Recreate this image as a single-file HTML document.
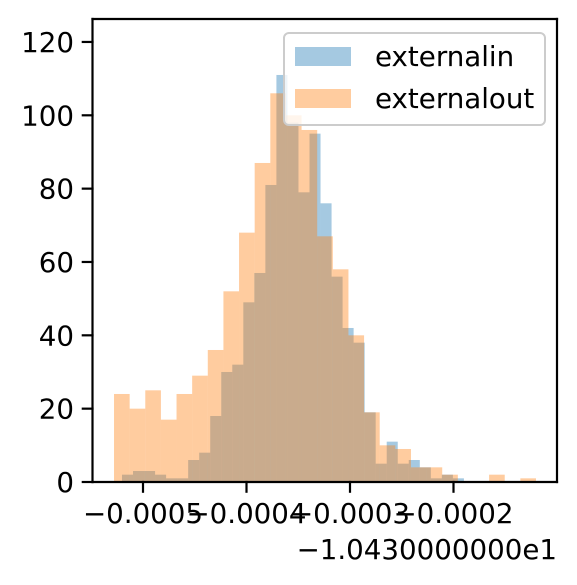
<!DOCTYPE html>
<html><head><meta charset="utf-8"><style>
html,body{margin:0;padding:0;background:#fff;}
svg{display:block;font-family:"DejaVu Sans","Liberation Sans",sans-serif;}
</style></head><body>
<svg id="chart" width="577" height="585" viewBox="0 0 577 585" xmlns="http://www.w3.org/2000/svg">
<g id="bars"></g>
<g id="axes"></g>
<g id="legend">
  <rect x="284" y="33" width="261" height="92" rx="5" fill="#fff" fill-opacity="0.8" stroke="#cccccc" stroke-width="2"/>
  <rect x="295" y="47" width="56" height="19" fill="#1f77b4" fill-opacity="0.4"/>
  <text x="375" y="66" font-size="27.7">externalin</text>
  <rect x="295" y="89" width="56" height="19" fill="#ff7f0e" fill-opacity="0.4"/>
  <text x="375" y="108" font-size="27.7">externalout</text>
</g>
</svg>
<script>
const orangeStart = -0.0005280;
const orangeWidth = 0.00001510;
const orangeCounts = [24,20,25,17,24,29,36,52,68,87,106,100,96,67,58,40,19,10,9,4,4,2,0,0,2,0,1];
const blueStart = -0.0005203;
const blueWidth = 0.000010657;
const blueCounts = [2,3,3,2,1,1,6,8,18,30,32,49,57,81,111,98,79,95,76,56,42,38,19,5,11,5,6,4,1,2,1];
const xTicks = [-0.0005,-0.0004,-0.0003,-0.0002];
const xTickLabels = ["\u22120.0005","\u22120.0004","\u22120.0003","\u22120.0002"];
const yTicks = [0,20,40,60,80,100,120];
const offsetLabel = "\u22121.0430000000e1";

const NS = "http://www.w3.org/2000/svg";
const L = 92.5, R = 557, T = 19, B = 482;
function xs(v){ return 143 + (v + 0.0005) / 0.0001 * 103.5; }
function ys(v){ return B - v * 3.667; }

const bars = document.getElementById('bars');
function drawSeries(start, width, counts, color, name){
  counts.forEach((c, i) => {
    if (c <= 0) return;
    const x0 = xs(start + i * width), x1 = xs(start + (i + 1) * width);
    const r = document.createElementNS(NS, 'rect');
    r.setAttribute('x', x0);
    r.setAttribute('y', ys(c));
    r.setAttribute('width', x1 - x0);
    r.setAttribute('height', B - ys(c));
    r.setAttribute('fill', color);
    r.setAttribute('fill-opacity', '0.4');
    
    
    bars.appendChild(r);
  });
}
drawSeries(blueStart, blueWidth, blueCounts, '#1f77b4', 'externalin');
drawSeries(orangeStart, orangeWidth, orangeCounts, '#ff7f0e', 'externalout');

const axes = document.getElementById('axes');
function line(x1,y1,x2,y2,name){
  const l = document.createElementNS(NS,'line');
  l.setAttribute('x1',x1); l.setAttribute('y1',y1); l.setAttribute('x2',x2); l.setAttribute('y2',y2);
  l.setAttribute('stroke','#000'); l.setAttribute('stroke-width','2.2'); l.setAttribute('stroke-linecap','square');
  
  
  axes.appendChild(l);
}
function text(x,y,s,anchor,name){
  const t = document.createElementNS(NS,'text');
  t.setAttribute('x',x); t.setAttribute('y',y); t.setAttribute('text-anchor',anchor);
  t.setAttribute('font-size','27.7'); t.textContent = s;
  
  
  axes.appendChild(t);
}
line(L,T,R,T,'frame-top');
line(R,T,R,B,'frame-right');
line(L,T,L,B,'y-axis-line');
line(L,B,R,B,'x-axis-line');
yTicks.forEach(v => {
  const y = ys(v);
  line(L-9.7,y,L,y,'y-tick-'+v);
  text(74,y+10,String(v),'end','y-tick-label-'+v);
});
xTicks.forEach((v,i) => {
  const x = xs(v);
  line(x,B,x,B+9.7,'x-tick-'+i);
  text(x,523,xTickLabels[i],'middle','x-tick-label-'+i);
});
text(557,559,offsetLabel,'end','x-offset-label');
</script>
</body></html>
